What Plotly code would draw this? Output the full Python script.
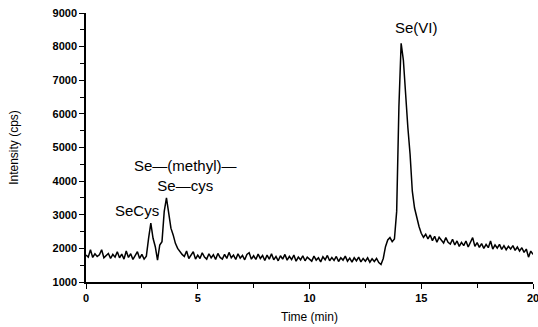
import plotly.graph_objects as go

# Chromatogram intensity (cps), sampled every 0.1 min from 0 to 20 min
intensity = [
    1800, 1740, 1960, 1730, 1840, 1760, 1810, 1960, 1720, 1800,   # 0.0-0.9
    1850, 1700, 1820, 1740, 1900, 1720, 1830, 1680, 1920, 1730,   # 1.0-1.9
    1840, 1670, 1790, 1900, 1700, 1820, 1680, 1770, 2300, 2750,   # 2.0-2.9
    2300, 2050, 1650, 2100, 2200, 3100, 3500, 3050, 2600, 2400,   # 3.0-3.9
    2150, 2000, 1900, 1820, 1760, 1920, 1700, 1820, 1900, 1680,   # 4.0-4.9
    1800, 1700, 1870, 1740, 1680, 1840, 1720, 1810, 1670, 1850,   # 5.0-5.9
    1730, 1680, 1820, 1700, 1880, 1720, 1800, 1670, 1840, 1710,   # 6.0-6.9
    1790, 1660, 1820, 1870, 1680, 1780, 1670, 1830, 1700, 1790,   # 7.0-7.9
    1640, 1800, 1680, 1840, 1660, 1760, 1630, 1780, 1680, 1820,   # 8.0-8.9
    1650, 1760, 1670, 1800, 1620, 1740, 1660, 1780, 1630, 1740,   # 9.0-9.9
    1670, 1620, 1770, 1650, 1720, 1600, 1750, 1660, 1790, 1630,   # 10.0-10.9
    1730, 1640, 1760, 1610, 1720, 1650, 1770, 1620, 1710, 1590,   # 11.0-11.9
    1720, 1630, 1740, 1600, 1700, 1620, 1720, 1590, 1690, 1610,   # 12.0-12.9
    1700, 1580, 1520, 1700, 2050, 2250, 2320, 2200, 2280, 3100,   # 13.0-13.9
    6200, 8100, 7600, 6500, 5600, 4800, 3700, 3200, 2900, 2650,   # 14.0-14.9
    2450, 2330, 2420, 2280, 2400, 2230, 2360, 2180, 2330, 2240,   # 15.0-15.9
    2160, 2320, 2180, 2130, 2270, 2100, 2220, 2060, 2180, 2080,   # 16.0-16.9
    2220, 2040, 2160, 2320, 2060, 2170, 2030, 2140, 2000, 2120,   # 17.0-17.9
    2020, 2220, 1980, 2100, 2010, 2120, 1970, 2080, 1960, 2060,   # 18.0-18.9
    1980, 2080, 1940, 2040, 1920, 2020, 1880, 1980, 1740, 1920,   # 19.0-19.9
    1820,                                                         # 20.0
]
time_min = [round(i * 0.1, 1) for i in range(len(intensity))]

# Peak labels
peak_labels = ["Se(VI)", "Se—(methyl)—<br>Se—cys", "SeCys"]
peak_x = [14.77, 4.45, 2.30]
peak_y = [8560, 4155, 3140]

x_ticks = [0, 5, 10, 15, 20]
y_ticks = [1000, 2000, 3000, 4000, 5000, 6000, 7000, 8000, 9000]

fig = go.Figure()
fig.add_trace(go.Scatter(x=time_min, y=intensity, mode="lines",
                         line=dict(color="black", width=1.5), showlegend=False))

for t, x, y in zip(peak_labels, peak_x, peak_y):
    fig.add_annotation(x=x, y=y, text=t, showarrow=False, xref="x", yref="y",
                       font=dict(family="Liberation Sans, Arial", size=15, color="black"))

tickfont = dict(family="Liberation Sans, Arial", size=11, color="black")
fig.update_layout(
    width=538, height=327,
    margin=dict(l=86, r=5, t=13, b=45),
    plot_bgcolor="white", paper_bgcolor="white",
    xaxis=dict(range=[0, 20], tickvals=x_ticks, ticktext=[f"<b>{v}</b>" for v in x_ticks],
               showgrid=False, zeroline=False, automargin=False, ticklabeloverflow="allow",
               showline=True, linecolor="black", linewidth=1.5,
               ticks="outside", ticklen=5, tickwidth=1.2, tickcolor="black",
               tickfont=tickfont,
               minor=dict(dtick=2.5, ticks="outside", ticklen=4, tickcolor="black", tickwidth=1.2),
               title=dict(text="Time (min)", standoff=10,
                          font=dict(family="Liberation Sans, Arial", size=12, color="black"))),
    yaxis=dict(range=[1000, 9000], tickvals=y_ticks, ticktext=[f"<b>{v}</b>" for v in y_ticks],
               showgrid=False, zeroline=False, automargin=False, ticklabeloverflow="allow",
               showline=True, linecolor="black", linewidth=1.5,
               ticks="outside", ticklen=5, tickwidth=1.2, tickcolor="black",
               tickfont=tickfont,
               minor=dict(dtick=500, ticks="outside", ticklen=4, tickcolor="black", tickwidth=1.2),
               title=dict(text="Intensity (cps)", standoff=31,
                          font=dict(family="Liberation Sans, Arial", size=12, color="black"))),
)

fig.write_html("out.html", config={"displayModeBar": False},
               post_script="document.body.style.margin='0';document.body.style.overflow='hidden';")
